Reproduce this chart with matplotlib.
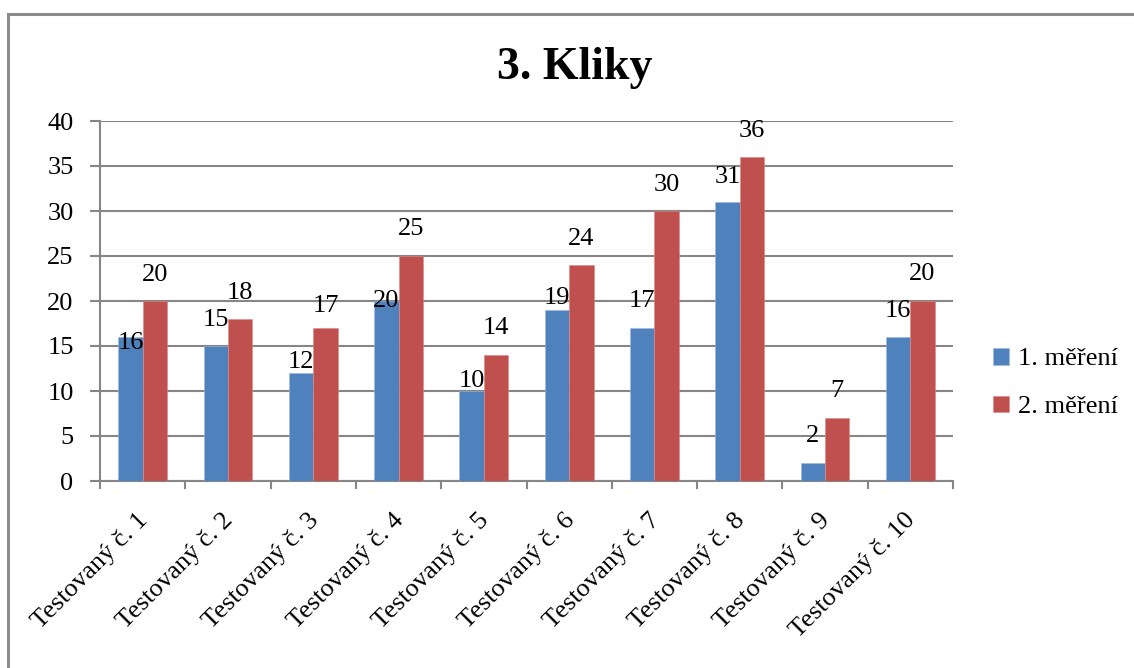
import matplotlib
matplotlib.use("Agg")
import matplotlib.pyplot as plt
from matplotlib.lines import Line2D
from matplotlib.transforms import ScaledTranslation
import numpy as np

# Data
categories = [f"Testovaný č. {i}" for i in range(1, 11)]
series_names = ["1. měření", "2. měření"]
mereni_1 = [16, 15, 12, 20, 10, 19, 17, 31, 2, 16]
mereni_2 = [20, 18, 17, 25, 14, 24, 30, 36, 7, 20]
y_ticks = [0, 5, 10, 15, 20, 25, 30, 35, 40]
title = "3. Kliky"

# Vertical nudge of each value label (pixels, relative to the bar top)
label_shift_1 = [-6, 26, 11, 0, 10, 12, 27, 25, 27, 26]
label_shift_2 = [26, 26, 22, 27, 27, 26, 26, 26, 27, 27]

BLUE = "#4F81BD"
RED = "#C0504D"
GRID = "#868686"
FONT = "Liberation Serif"

W, H = 1134, 668
fig = plt.figure(figsize=(W / 100, H / 100), dpi=100)
fig.patch.set_facecolor("white")

# chart frame (left and top edges)
fig.add_artist(Line2D([7.5 / W, 7.5 / W], [0, 1 - 13.5 / H], color="#8c8c8c", lw=2.2,
                      transform=fig.transFigure))
fig.add_artist(Line2D([7.5 / W, 1], [1 - 13.5 / H, 1 - 13.5 / H], color="#8c8c8c", lw=2.2,
                      transform=fig.transFigure))

left, right, top, bottom = 100, 953, 121, 481
ax = fig.add_axes([left / W, 1 - bottom / H, (right - left) / W, (bottom - top) / H])

x = np.arange(len(categories))
bw = 0.286
b1 = ax.bar(x - bw / 2, mereni_1, bw, color=BLUE, edgecolor="#9db8dc", linewidth=0.4,
            label=series_names[0], zorder=3)
b2 = ax.bar(x + bw / 2, mereni_2, bw, color=RED, edgecolor="#d98a88", linewidth=0.4,
            label=series_names[1], zorder=3)

for rect, v, s in zip(b1, mereni_1, label_shift_1):
    ax.annotate(str(v), (rect.get_x() + rect.get_width() / 2, v), xytext=(0, s),
                textcoords="offset pixels", ha="center", va="center",
                fontsize=19, family=FONT, color="black", zorder=5)
for rect, v, s in zip(b2, mereni_2, label_shift_2):
    ax.annotate(str(v), (rect.get_x() + rect.get_width() / 2, v), xytext=(0, s),
                textcoords="offset pixels", ha="center", va="center",
                fontsize=19, family=FONT, color="black", zorder=5)

ax.set_xlim(-0.5, len(categories) - 0.5)
ax.set_ylim(0, 40)
ax.set_yticks(y_ticks)
ax.set_yticklabels([str(t) for t in y_ticks], family=FONT, fontsize=19)
ax.yaxis.grid(True, color=GRID, linewidth=1.5, zorder=0)
ax.set_axisbelow(True)

ax.set_xticks(x)
ax.set_xticklabels(categories, rotation=45, ha="right", va="top",
                   rotation_mode="anchor", family=FONT, fontsize=19)
ax.set_xticks(np.arange(-0.5, len(categories), 1.0), minor=True)
ax.tick_params(axis="x", which="major", length=0, pad=20)
ax.tick_params(axis="x", which="minor", length=6, width=1.5, color=GRID, direction="out")
ax.tick_params(axis="y", length=7, width=1.5, color=GRID, direction="out", pad=12)
for lab in ax.get_xticklabels():
    lab.set_transform(lab.get_transform() + ScaledTranslation(-6 / 100, 0, fig.dpi_scale_trans))

for side in ("top", "right"):
    ax.spines[side].set_visible(False)
for side in ("left", "bottom"):
    ax.spines[side].set_color(GRID)
    ax.spines[side].set_linewidth(1.5)

fig.text(575 / W, 1 - 68 / H, title, ha="center", va="center", family=FONT,
         fontsize=33, fontweight="bold")

leg = fig.legend(handles=[b1, b2], labels=series_names, loc="center left",
                 bbox_to_anchor=(993 / W, 1 - 383 / H), frameon=False, borderpad=0,
                 borderaxespad=0, prop={"family": FONT, "size": 19},
                 handlelength=0.6, handleheight=0.6,
                 handletextpad=0.35, labelspacing=0.95)

fig.savefig("out.png", dpi=100, facecolor="white")
